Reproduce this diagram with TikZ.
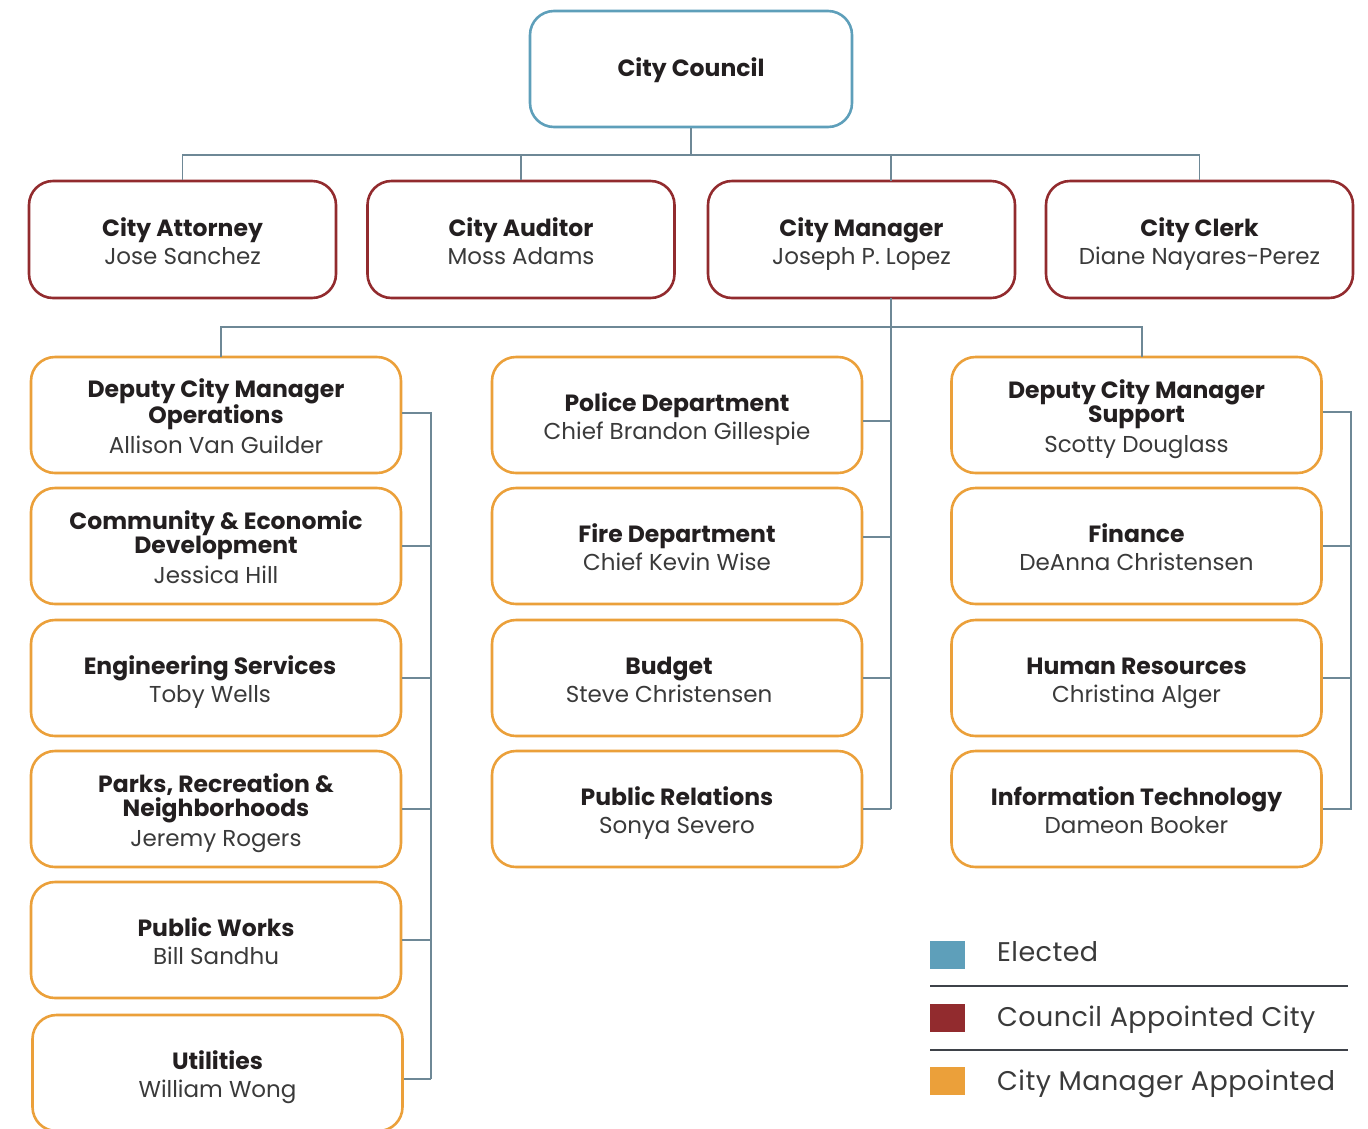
\documentclass[tikz,border=0pt]{standalone}
\usepackage{fontspec}
\setmainfont{Poppins}
\newfontfamily\legfont[LetterSpace=1.6]{Poppins}
\definecolor{elected}{HTML}{5E9FBA}
\definecolor{council}{HTML}{922B2E}
\definecolor{mgr}{HTML}{EBA03A}
\definecolor{wire}{HTML}{6E8896}
\definecolor{ink}{HTML}{231F20}
\definecolor{inkname}{HTML}{3A3A3A}
\definecolor{rule}{HTML}{3E4249}
\newcommand{\fr}{\rule{0pt}{21pt}}
\newcommand{\padr}[1]{\rule{#1}{0pt}}
\newcommand{\ttl}[1]{{\fontsize{23.5}{24}\selectfont\bfseries\color{ink}#1}}
\newcommand{\nm}[1]{\smash{\fontsize{23}{24}\selectfont\color{inkname}#1}}
\tikzset{
  box/.style={draw, line width=2.6pt, rounded corners=24pt, fill=white,
    align=center, inner sep=0pt, font=\fontsize{23.5}{24}\selectfont},
  elbox/.style={box, draw=elected, minimum width=322pt, minimum height=116pt},
  cabox/.style={box, draw=council, minimum width=307pt, minimum height=117pt},
  cmbox/.style={box, draw=mgr, minimum width=370pt, minimum height=116pt},
  wireline/.style={draw=wire, line width=1.4pt},
  swatch/.style={minimum width=35pt, minimum height=28pt, inner sep=0pt},
  legtext/.style={anchor=base west, inner sep=0pt, font=\legfont\fontsize{27}{28}\selectfont, text=inkname},
}
\begin{document}
\begin{tikzpicture}[x=1pt,y=-1pt]
\useasboundingbox (0,0) rectangle (1368,1128);
\clip (0,0) rectangle (1368,1128);
% top
\node[elbox] (council) at (691,69) {\rule{0pt}{14pt}\smash{\ttl{City Council}}};
\node[cabox] (attorney) at (182.5,239.5) {\fr\ttl{City Attorney}\\[4pt]\nm{Jose Sanchez}};
\node[cabox] (auditor) at (521,239.5) {\fr\ttl{City Auditor}\\[4pt]\nm{Moss Adams}};
\node[cabox] (manager) at (861.5,239.5) {\fr\ttl{City Manager}\\[4pt]\nm{Joseph P. Lopez}};
\node[cabox] (clerk) at (1199.5,239.5) {\fr\ttl{City Clerk}\\[4pt]\nm{Diane Nayares-Perez}};
% left column
\node[cmbox] (L1) at (216,415) {\fr\ttl{Deputy City Manager}\\\ttl{Operations}\\[6pt]\nm{Allison Van Guilder}};
\node[cmbox] (L2) at (216,546) {\fr\ttl{Community \& Economic}\\\ttl{Development}\\[6pt]\nm{Jessica Hill}};
\node[cmbox] (L3) at (216,678) {\fr\ttl{Engineering Services}\padr{12pt}\\[4pt]\nm{Toby Wells}\padr{12pt}};
\node[cmbox] (L4) at (216,809) {\fr\ttl{Parks, Recreation \&}\\\ttl{Neighborhoods}\\[6pt]\nm{Jeremy Rogers}};
\node[cmbox] (L5) at (216,940) {\fr\ttl{Public Works}\\[4pt]\nm{Bill Sandhu}};
\node[cmbox] (L6) at (217.5,1073) {\fr\ttl{Utilities}\\[4pt]\nm{William Wong}};
% middle column
\node[cmbox] (M1) at (677,415) {\fr\ttl{Police Department}\\[4pt]\nm{Chief Brandon Gillespie}};
\node[cmbox] (M2) at (677,546) {\fr\ttl{Fire Department}\\[4pt]\nm{Chief Kevin Wise}};
\node[cmbox] (M3) at (677,678) {\fr\ttl{Budget}\padr{16pt}\\[4pt]\nm{Steve Christensen}\padr{16pt}};
\node[cmbox] (M4) at (677,809) {\fr\ttl{Public Relations}\\[4pt]\nm{Sonya Severo}};
% right column
\node[cmbox] (R1) at (1136.5,415) {\fr\ttl{Deputy City Manager}\\\ttl{Support}\\[6pt]\nm{Scotty Douglass}};
\node[cmbox] (R2) at (1136.5,546) {\fr\ttl{Finance}\\[4pt]\nm{DeAnna Christensen}};
\node[cmbox] (R3) at (1136.5,678) {\fr\ttl{Human Resources}\\[4pt]\nm{Christina Alger}};
\node[cmbox] (R4) at (1136.5,809) {\fr\ttl{Information Technology}\\[4pt]\nm{Dameon Booker}};
% bus coordinates
\coordinate (bus1) at (691,155);
\coordinate (mtop) at (891,181);
\coordinate (mbot) at (891,298);
\coordinate (bus2) at (891,327);
\coordinate (ltop) at (221,357);
\coordinate (rtop) at (1142,357);
\coordinate (lbus) at (431,0);
\coordinate (mbus) at (891,0);
\coordinate (rbus) at (1351,0);
% council to row 2
\draw[wireline] (council.south) -- (bus1);
\draw[wireline] (attorney.north) |- (bus1);
\draw[wireline] (auditor.north) |- (bus1);
\draw[wireline] (mtop) |- (bus1);
\draw[wireline] (clerk.north) |- (bus1);
% manager bus
\draw[wireline] (mbot) -- (M4.east -| mbus);
\draw[wireline] (ltop) |- (bus2) -| (rtop);
% left
\draw[wireline] ([yshift=2pt]L1.east) -- ([yshift=2pt]L1.east -| lbus) -- ([yshift=-6pt]L6.east -| lbus);
\foreach \n in {L2,L3,L4,L5} \draw[wireline] (\n.east) -- (\n.east -| lbus);
\draw[wireline] ([yshift=-6pt]L6.east) -- ([yshift=-6pt]L6.east -| lbus);
% middle
\draw[wireline] ([yshift=-6pt]M1.east) -- ([yshift=-6pt]M1.east -| mbus);
\draw[wireline] ([yshift=9pt]M2.east) -- ([yshift=9pt]M2.east -| mbus);
\foreach \n in {M3,M4} \draw[wireline] (\n.east) -- (\n.east -| mbus);
% right
\draw[wireline] ([yshift=3pt]R1.east) -- ([yshift=3pt]R1.east -| rbus) -- (R4.east -| rbus) -- (R4.east);
\foreach \n in {R2,R3} \draw[wireline] (\n.east) -- (\n.east -| rbus);
% legend
\node[swatch, fill=elected] (s1) at (947.5,955) {};
\node[swatch, fill=council] (s2) at (947.5,1018) {};
\node[swatch, fill=mgr] (s3) at (947.5,1081) {};
\node[legtext] (t1) at (997,961) {Elected};
\node[legtext] (t2) at (997,1026) {Council Appointed City};
\node[legtext] (t3) at (997,1090) {City Manager Appointed};
\draw[draw=rule, line width=1.2pt] (930,986) -- (1348,986);
\draw[draw=rule, line width=1.2pt] (930,1050) -- (1348,1050);
\end{tikzpicture}
\end{document}
